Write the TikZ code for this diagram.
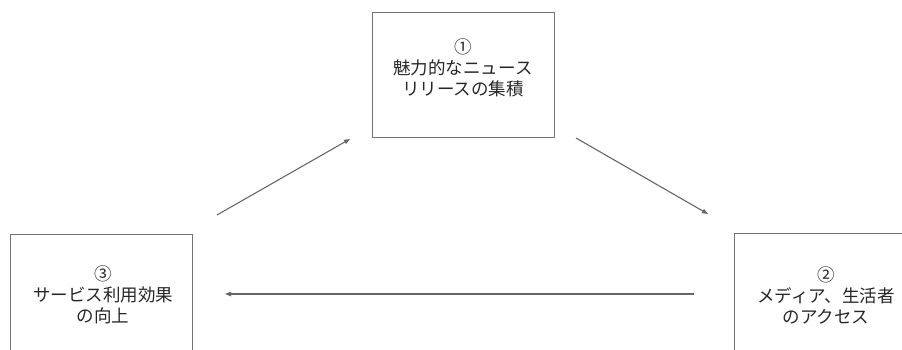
\documentclass[tikz,border=0pt]{standalone}
\usepackage{fontspec}
\newfontfamily\jpfont{Noto Sans CJK JP}
\usetikzlibrary{arrows.meta}

\begin{document}
\begin{tikzpicture}[x=1pt, y=1pt,
    stagebox/.style={draw=black!55, line width=1pt, minimum width=182pt, minimum height=136pt, inner sep=0pt},
    stagetext/.style={text=black!85, font=\jpfont\fontsize{17.5}{21}\selectfont, align=center, inner sep=0pt},
    flow/.style={-{Triangle[length=6pt,width=4.5pt]}, draw=black!60, line width=1.1pt}]
    \clip (0,0) rectangle (902,349);
    % boxes
    \node [stagebox, minimum height=124pt] (news) at (463,274) {};
    \node [stagebox] (access) at (825,48) {};
    \node [stagebox] (effect) at (101,47) {};
    % texts
    \node [stagetext] (newstext) at (463,281) {①\\魅力的なニュース\\リリースの集積};
    \node [stagetext] (accesstext) at (826,54) {②\\メディア、生活者\\のアクセス};
    \node [stagetext] (effecttext) at (103,54) {③\\サービス利用効果\\の向上};
    % arrow ends
    \coordinate (a1) at (217,134);
    \coordinate (a2) at (350,210);
    \coordinate (b1) at (576,211);
    \coordinate (b2) at (708,135);
    \coordinate (c1) at (694,55);
    \coordinate (c2) at (225,55);
    \draw [flow] (a1) -- (a2);
    \draw [flow] (b1) -- (b2);
    \draw [flow] (c1) -- (c2);
\end{tikzpicture}
\end{document}
